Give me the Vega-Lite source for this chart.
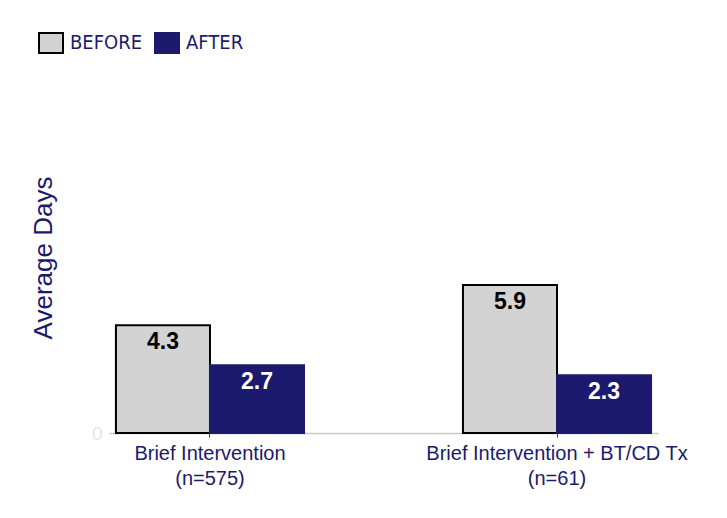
{
  "$schema": "https://vega.github.io/schema/vega-lite/v6.json",
  "width": 549,
  "height": 351,
  "autosize": {"type": "none"},
  "padding": {"left": 109, "top": 82, "right": 69, "bottom": 85},
  "background": "white",
  "config": {"view": {"stroke": null}, "font": "Liberation Sans"},
  "data": {
    "values": [
      {"group": "Brief Intervention (n=575)", "period": "BEFORE", "days": 4.3},
      {"group": "Brief Intervention (n=575)", "period": "AFTER", "days": 2.7},
      {"group": "Brief Intervention + BT/CD Tx (n=61)", "period": "BEFORE", "days": 5.9},
      {"group": "Brief Intervention + BT/CD Tx (n=61)", "period": "AFTER", "days": 2.3}
    ]
  },
  "encoding": {
    "x": {
      "field": "group",
      "type": "nominal",
      "sort": null,
      "scale": {"paddingInner": 0.458, "paddingOuter": 0.02},
      "axis": {
        "title": null,
        "labelAngle": 0,
        "labelLimit": 0,
        "domainColor": "#c8c8c8",
        "domainWidth": 1.5,
        "tickColor": "#333333",
        "tickSize": 4,
        "labelFontSize": 20,
        "labelColor": "#1c1a6e",
        "labelPadding": 6,
        "labelLineHeight": 25,
        "labelExpr": "[slice(datum.label, 0, indexof(datum.label, ' (')), slice(datum.label, indexof(datum.label, ' (') + 1)]"
      }
    },
    "xOffset": {
      "field": "period",
      "type": "nominal",
      "sort": ["BEFORE", "AFTER"],
      "scale": {"paddingInner": 0, "paddingOuter": 0}
    },
    "y": {
      "field": "days",
      "type": "quantitative",
      "scale": {"domain": [0, 14]},
      "axis": {
        "title": "Average Days",
        "values": [0],
        "ticks": false,
        "domain": false,
        "grid": false,
        "labelColor": "#e6e6e6",
        "labelFontSize": 19,
        "labelPadding": 7,
        "titleColor": "#1c1a6e",
        "titleFontSize": 26,
        "titleFontWeight": "normal",
        "titlePadding": 35
      }
    }
  },
  "layer": [
    {
      "mark": {"type": "bar", "strokeWidth": 2, "strokeJoin": "miter"},
      "encoding": {
        "fill": {
          "field": "period",
          "type": "nominal",
          "sort": ["BEFORE", "AFTER"],
          "scale": {"domain": ["BEFORE", "AFTER"], "range": ["#d3d3d3", "#1c1a6e"]},
          "legend": {
            "title": null,
            "orient": "none",
            "direction": "horizontal",
            "legendX": -69,
            "legendY": -50,
            "symbolType": "M-1.2,-1L1.2,-1L1.2,1L-1.2,1Z",
            "symbolSize": 400,
            "symbolStrokeWidth": 2,
            "labelFont": "DejaVu Sans Condensed, Roboto, Liberation Sans",
            "labelFontSize": 20,
            "labelColor": "#1c1a6e",
            "labelOffset": 8,
            "columnPadding": 8,
            "padding": 0
          }
        },
        "stroke": {
          "field": "period",
          "type": "nominal",
          "sort": ["BEFORE", "AFTER"],
          "scale": {"domain": ["BEFORE", "AFTER"], "range": ["#000000", "#1c1a6e"]},
          "legend": {
            "title": null,
            "orient": "none",
            "direction": "horizontal",
            "legendX": -69,
            "legendY": -50,
            "symbolType": "M-1.2,-1L1.2,-1L1.2,1L-1.2,1Z",
            "symbolSize": 400,
            "symbolStrokeWidth": 2,
            "labelFont": "DejaVu Sans Condensed, Roboto, Liberation Sans",
            "labelFontSize": 20,
            "labelColor": "#1c1a6e",
            "labelOffset": 8,
            "columnPadding": 8,
            "padding": 0
          }
        }
      }
    },
    {
      "mark": {"type": "text", "baseline": "top", "dy": 6, "fontSize": 23, "fontWeight": "bold"},
      "encoding": {
        "text": {"field": "days", "type": "quantitative", "format": ".1f"},
        "color": {"condition": {"test": "datum.period == 'AFTER'", "value": "white"}, "value": "black"}
      }
    }
  ]
}
